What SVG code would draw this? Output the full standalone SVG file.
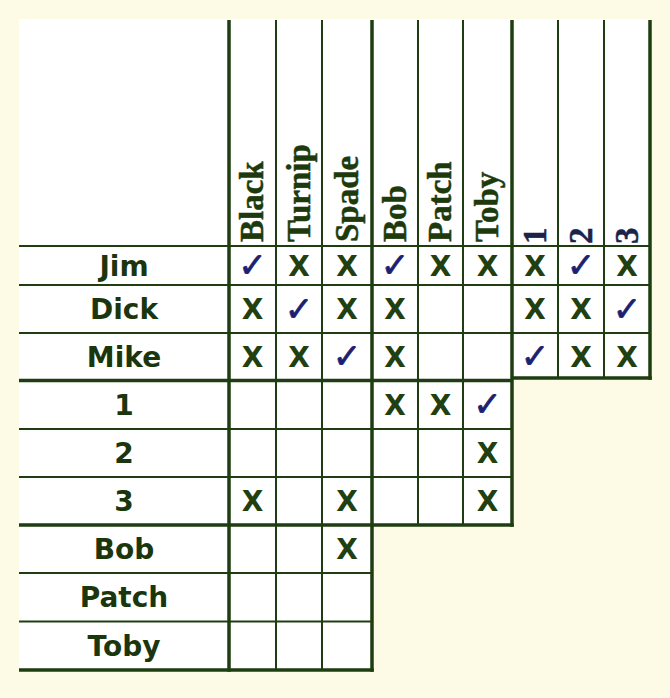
<svg xmlns="http://www.w3.org/2000/svg" width="670" height="698" viewBox="0 0 670 698">
<style>
.thin{stroke:#1e3d10;stroke-width:2;fill:none}
.thick{stroke:#1e3d10;stroke-width:3.5;fill:none}
.hd{font-family:"Liberation Serif","Times New Roman",serif;font-weight:bold;font-size:33px;fill:#1c3a0c;stroke:#1c3a0c;stroke-width:0.5}
.hn{font-family:"Liberation Serif","Times New Roman",serif;font-weight:bold;font-size:33px;fill:#1c2248;stroke:#1c2248;stroke-width:0.5}
.rl{font-family:"DejaVu Sans",Verdana,sans-serif;font-weight:bold;font-size:28px;fill:#1b360c;text-anchor:middle}
.x{font-family:"DejaVu Sans",Verdana,sans-serif;font-weight:bold;font-size:28px;fill:#22400f;text-anchor:middle}
.ck{font-family:"DejaVu Sans",sans-serif;font-weight:bold;font-size:34px;fill:#1c1f72;stroke:#1c1f72;stroke-width:0.8;text-anchor:middle}
</style>
<rect x="0" y="0" width="670" height="698" fill="#fdfae6"/>
<path d="M19 19H650V379H512V525H372V670H19Z" fill="#ffffff"/>

<g id="grid-lines">
<line class="thin" x1="276" y1="20" x2="276" y2="670"/>
<line class="thin" x1="322" y1="20" x2="322" y2="670"/>
<line class="thin" x1="418" y1="20" x2="418" y2="525"/>
<line class="thin" x1="463" y1="20" x2="463" y2="525"/>
<line class="thin" x1="558" y1="20" x2="558" y2="378"/>
<line class="thin" x1="604" y1="20" x2="604" y2="378"/>
<line class="thin" x1="19" y1="246" x2="650" y2="246"/>
<line class="thin" x1="19" y1="285" x2="650" y2="285"/>
<line class="thin" x1="19" y1="333" x2="650" y2="333"/>
<line class="thin" x1="19" y1="429" x2="512" y2="429"/>
<line class="thin" x1="19" y1="477" x2="512" y2="477"/>
<line class="thin" x1="19" y1="573" x2="372" y2="573"/>
<line class="thin" x1="19" y1="621.5" x2="372" y2="621.5"/>
<line class="thick" x1="229" y1="20" x2="229" y2="671.75"/>
<line class="thick" x1="372" y1="20" x2="372" y2="671.75"/>
<line class="thick" x1="512" y1="20" x2="512" y2="526.75"/>
<line class="thick" x1="650" y1="20" x2="650" y2="379.75"/>
<line class="thick" x1="512" y1="378" x2="651.75" y2="378"/>
<line class="thick" x1="19" y1="380.5" x2="512" y2="380.5"/>
<line class="thick" x1="19" y1="525" x2="513.75" y2="525"/>
<line class="thick" x1="19" y1="670" x2="373.75" y2="670"/>
</g>

<g id="column-headers">
<text class="hd" transform="translate(263,242) rotate(-90)">Black</text>
<text class="hd" transform="translate(309.5,242) rotate(-90)">Turnip</text>
<text class="hd" transform="translate(357.5,242) rotate(-90)">Spade</text>
<text class="hd" transform="translate(405.5,242) rotate(-90)">Bob</text>
<text class="hd" transform="translate(451,242) rotate(-90)">Patch</text>
<text class="hd" transform="translate(498,242) rotate(-90)">Toby</text>
<text class="hn" transform="translate(546,244) rotate(-90)">1</text>
<text class="hn" transform="translate(592,244) rotate(-90)">2</text>
<text class="hn" transform="translate(638,244) rotate(-90)">3</text>
</g>

<g id="row-labels">
<text class="rl" x="124" y="275.5">Jim</text>
<text class="rl" x="124" y="319">Dick</text>
<text class="rl" x="124" y="366.5">Mike</text>
<text class="rl" x="124" y="414.5">1</text>
<text class="rl" x="124" y="463">2</text>
<text class="rl" x="124" y="511">3</text>
<text class="rl" x="124" y="559">Bob</text>
<text class="rl" x="124" y="607">Patch</text>
<text class="rl" x="124" y="656">Toby</text>
</g>

<g id="marks">
<!-- Jim -->
<text class="ck" x="252.5" y="277">✓</text>
<text class="x" x="299" y="275.5">X</text>
<text class="x" x="347" y="275.5">X</text>
<text class="ck" x="395" y="277">✓</text>
<text class="x" x="440.5" y="275.5">X</text>
<text class="x" x="487.5" y="275.5">X</text>
<text class="x" x="535" y="275.5">X</text>
<text class="ck" x="581" y="277">✓</text>
<text class="x" x="627" y="275.5">X</text>
<!-- Dick -->
<text class="x" x="252.5" y="319">X</text>
<text class="ck" x="299" y="320.5">✓</text>
<text class="x" x="347" y="319">X</text>
<text class="x" x="395" y="319">X</text>
<text class="x" x="535" y="319">X</text>
<text class="x" x="581" y="319">X</text>
<text class="ck" x="627" y="320.5">✓</text>
<!-- Mike -->
<text class="x" x="252.5" y="366.5">X</text>
<text class="x" x="299" y="366.5">X</text>
<text class="ck" x="347" y="368">✓</text>
<text class="x" x="395" y="366.5">X</text>
<text class="ck" x="535" y="368">✓</text>
<text class="x" x="581" y="366.5">X</text>
<text class="x" x="627" y="366.5">X</text>
<!-- 1 -->
<text class="x" x="395" y="414.5">X</text>
<text class="x" x="440.5" y="414.5">X</text>
<text class="ck" x="487.5" y="416">✓</text>
<!-- 2 -->
<text class="x" x="487.5" y="463">X</text>
<!-- 3 -->
<text class="x" x="252.5" y="511">X</text>
<text class="x" x="347" y="511">X</text>
<text class="x" x="487.5" y="511">X</text>
<!-- Bob -->
<text class="x" x="347" y="559">X</text>
</g>
</svg>
